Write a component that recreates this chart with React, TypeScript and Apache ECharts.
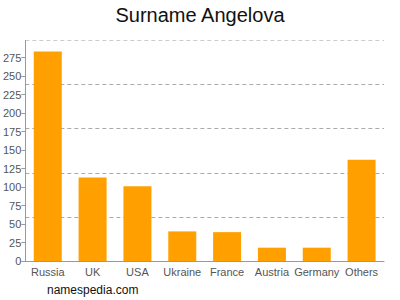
import React, { useEffect, useRef } from "react";
import * as echarts from "echarts";

const categories = ["Russia", "UK", "USA", "Ukraine", "France", "Austria", "Germany", "Others"];
const counts = [283, 113, 101, 40, 39, 18, 18, 137];
const tickValues = [0, 25, 50, 75, 100, 125, 150, 175, 200, 225, 250, 275];
const axisMax = 298;
const gridStep = 59.6;

export default function App() {
  const ref = useRef<HTMLDivElement>(null);
  useEffect(() => {
    const chart = echarts.init(ref.current!, null, { renderer: "svg" });
    const font = "'Liberation Sans', Arial, sans-serif";
    chart.setOption({
      animation: false,
      title: {
        text: "Surname Angelova",
        left: "center",
        top: 0,
        textStyle: { fontFamily: font, fontSize: 20, fontWeight: "normal", color: "#111" },
      },
      graphic: [
        {
          type: "text",
          left: 47,
          top: 284,
          style: { text: "namespedia.com", fontFamily: font, fontSize: 12, fill: "#111" },
        },
      ],
      grid: { left: 24, right: 16, top: 40.5, bottom: 39 },
      xAxis: {
        type: "category",
        data: categories,
        axisLine: { lineStyle: { color: "#999" } },
        axisTick: { alignWithLabel: true, length: 4, lineStyle: { color: "#999" } },
        axisLabel: { fontFamily: font, fontSize: 11, color: "#555", margin: 5, interval: 0 },
      },
      yAxis: [
        {
          type: "value",
          min: 0,
          max: axisMax,
          axisLine: { show: true, lineStyle: { color: "#999" } },
          axisTick: { show: true, length: 4, lineStyle: { color: "#999" }, customValues: tickValues },
          axisLabel: { fontFamily: font, fontSize: 11, color: "#555", margin: 4, customValues: tickValues },
          splitLine: { show: false },
        },
        {
          type: "value",
          min: 0,
          max: axisMax,
          interval: gridStep,
          position: "left",
          axisLine: { show: false },
          axisTick: { show: false },
          axisLabel: { show: false },
          splitLine: {
            show: true,
            lineStyle: { type: [4, 3], color: ["#aaa", "#aaa", "#aaa", "#aaa", "#aaa", "#ccc"], width: 1 },
          },
        },
      ],
      series: [
        {
          type: "bar",
          data: counts,
          yAxisIndex: 0,
          barWidth: 28,
          itemStyle: { color: "#FFA000" },
        },
      ],
    });
    return () => chart.dispose();
  }, []);
  return <div ref={ref} style={{ width: 400, height: 300, position: "absolute", left: 0, top: 0 }} />;
}
